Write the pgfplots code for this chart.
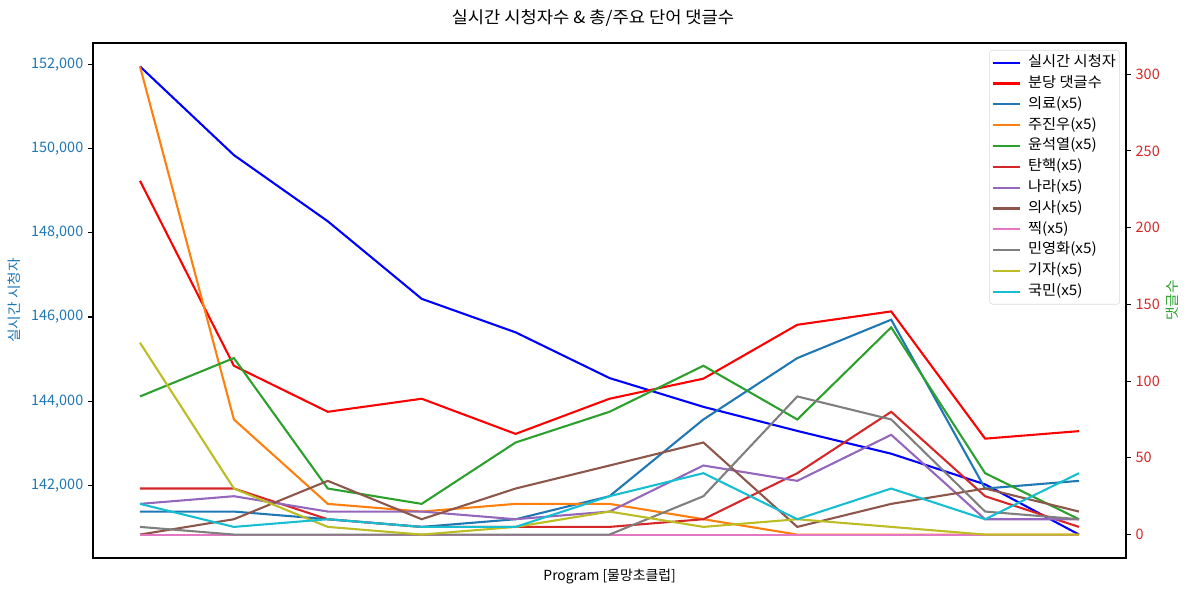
\documentclass[border=0pt]{standalone}
\usepackage{fontspec}
\setmainfont{Noto Sans CJK KR}
\newfontfamily\kr[FakeStretch=1.06]{Noto Sans CJK KR}
\usepackage{pgfplots}
\usepackage{pgfplotstable}
\pgfplotsset{compat=1.18}
\definecolor{tabblue}{HTML}{1F77B4}
\definecolor{taborange}{HTML}{FF7F0E}
\definecolor{tabgreen}{HTML}{2CA02C}
\definecolor{tabred}{HTML}{D62728}
\definecolor{tabpurple}{HTML}{9467BD}
\definecolor{tabbrown}{HTML}{8C564B}
\definecolor{tabpink}{HTML}{E377C2}
\definecolor{tabgray}{HTML}{7F7F7F}
\definecolor{tabolive}{HTML}{BCBD22}
\definecolor{tabcyan}{HTML}{17BECF}
\pgfplotstableread{
x view cpm med jjw yoon tan nara doc jjik min gija guk
0 151952 230.5 15 305 90 30 20 0 0 5 125 20
1 149847 110 15 75 115 30 25 10 0 0 30 5
2 148274 80 10 20 30 10 15 35 0 0 5 10
3 146432 88.5 5 15 20 5 15 10 0 0 0 5
4 145636 65.6 10 20 60 5 10 30 0 0 5 5
5 144550 88.5 25 20 80 5 15 45 0 0 15 25
6 143866 101.6 75 10 110 10 45 60 0 25 5 40
7 143294 136.7 115 0 75 40 35 5 0 90 10 10
8 142753 145.4 140 0 135 80 65 20 0 75 5 30
9 142024 62.5 30 0 40 25 10 30 0 15 0 10
10 140832 67.4 35 0 10 5 10 15 0 10 0 40
}\data
\begin{document}
\begin{tikzpicture}
\pgfplotsset{
  common/.style={
    at={(0,0)}, anchor=south west, scale only axis,
    width=743.8pt, height=370.8pt,
    xmin=-0.5, xmax=10.5, xtick=\empty,
    tick align=outside, major tick length=3.5pt,
    every tick/.style={black, line width=0.8pt},
    axis line style={line width=0.8pt},
    /pgf/number format/assume math mode=true,
    ticklabel style={font=\fontsize{10.4}{12}\selectfont},
  }
}
\begin{axis}[common,
  ymin=140276, ymax=152508,
  ytick={142000,144000,...,152000},
  ytick pos=left,
  scaled y ticks=false,
  yticklabel style={color=tabblue, /pgf/number format/.cd, fixed, 1000 sep={,}},
]
\addplot[color=blue, line width=1.5pt] table[x=x,y=view]{\data};
\end{axis}
\begin{axis}[common,
  ymin=-15.25, ymax=320.25,
  axis y line*=right, axis x line=none,
  ytick={0,50,...,300},
  yticklabel style={color=tabred},
  legend style={at={(1,1)}, anchor=north east, xshift=-4.3pt, yshift=-5pt,
    draw=black!15, rounded corners=2pt, fill=white, fill opacity=0.8, text opacity=1,
    font=\kr\fontsize{10.4}{12}\selectfont, row sep=1.1pt,
    nodes={inner sep=1.2pt, text height=8.5pt, text depth=3pt},
    /tikz/every odd column/.append style={column sep=3.5pt},
    inner xsep=1.5pt, inner ysep=2pt},
  legend cell align=left,
  legend image code/.code={\draw[#1] (0pt,0pt) -- (20pt,0pt);},
]
\addlegendimage{color=blue, line width=1.5pt}
\addlegendentry{실시간 시청자}
\addplot[color=red, line width=1.5pt] table[x=x,y=cpm]{\data};
\addlegendentry{분당 댓글수}
\addplot[color=tabblue, line width=1.5pt] table[x=x,y=med]{\data};
\addlegendentry{의료(x5)}
\addplot[color=taborange, line width=1.5pt] table[x=x,y=jjw]{\data};
\addlegendentry{주진우(x5)}
\addplot[color=tabgreen, line width=1.5pt] table[x=x,y=yoon]{\data};
\addlegendentry{윤석열(x5)}
\addplot[color=tabred, line width=1.5pt] table[x=x,y=tan]{\data};
\addlegendentry{탄핵(x5)}
\addplot[color=tabpurple, line width=1.5pt] table[x=x,y=nara]{\data};
\addlegendentry{나라(x5)}
\addplot[color=tabbrown, line width=1.5pt] table[x=x,y=doc]{\data};
\addlegendentry{의사(x5)}
\addplot[color=tabpink, line width=1.5pt] table[x=x,y=jjik]{\data};
\addlegendentry{찍(x5)}
\addplot[color=tabgray, line width=1.5pt] table[x=x,y=min]{\data};
\addlegendentry{민영화(x5)}
\addplot[color=tabolive, line width=1.5pt] table[x=x,y=gija]{\data};
\addlegendentry{기자(x5)}
\addplot[color=tabcyan, line width=1.5pt] table[x=x,y=guk]{\data};
\addlegendentry{국민(x5)}
\end{axis}
\node[font=\kr\fontsize{12}{14}\selectfont] at (360pt,388.8pt) {실시간 시청자수 \& 총/주요 단어 댓글수};
\node[font=\fontsize{10}{12}\selectfont] at (372pt,-13pt) {Program [물망초클럽]};
\node[font=\kr\fontsize{10}{12}\selectfont, color=tabblue, rotate=90] at (-56.9pt,185.4pt) {실시간 시청자};
\node[font=\kr\fontsize{10}{12}\selectfont, color=tabgreen, rotate=90] at (776.9pt,185.4pt) {댓글수};
\pgfresetboundingbox
\useasboundingbox (-67pt,-24.5pt) rectangle (789.2pt,401.8pt);
\end{tikzpicture}
\end{document}
